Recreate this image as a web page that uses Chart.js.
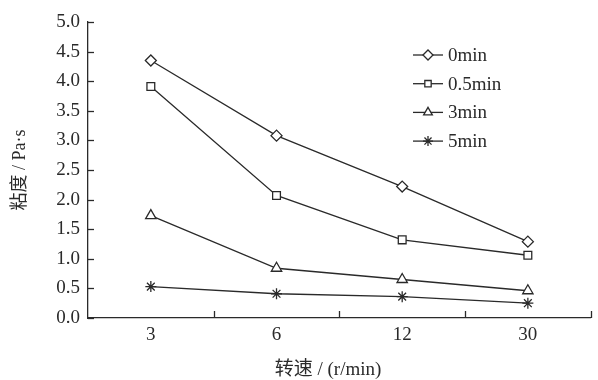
<!DOCTYPE html>
<html>
<head>
<meta charset="utf-8">
<script src="https://cdn.jsdelivr.net/npm/chart.js@4/dist/chart.umd.min.js"></script>
<style>
html,body{margin:0;padding:0;background:#fff;}
#wrap{width:598px;height:380px;position:relative;}
</style>
</head>
<body>
<div id="wrap"><canvas id="c" width="598" height="380"></canvas></div>
<script>
const categories = ['3', '6', '12', '30'];
const seriesNames = ['0min', '0.5min', '3min', '5min'];
const v0min  = [4.35, 3.08, 2.22, 1.29];
const v05min = [3.91, 2.07, 1.32, 1.06];
const v3min  = [1.73, 0.84, 0.65, 0.46];
const v5min  = [0.53, 0.41, 0.36, 0.25];
const yTitle = '粘度 / Pa·s';
const xTitle = '转速 / (r/min)';

const INK = '#2a2a2a';
const SERIF = "'Liberation Serif','Noto Sans CJK SC',serif";
const styles = [
  {pointStyle:'rectRot', radius:5.5},
  {pointStyle:'rect', radius:5.5},
  {pointStyle:'triangle', radius:6},
  {pointStyle:'star', radius:5.5}
];
const values = [v0min, v05min, v3min, v5min];

const datasets = values.map((d, i) => ({
  label: seriesNames[i],
  data: d,
  borderColor: INK,
  borderWidth: 1.3,
  backgroundColor: '#fff',
  pointBackgroundColor: '#fff',
  pointBorderColor: INK,
  pointBorderWidth: 1.3,
  pointStyle: styles[i].pointStyle,
  pointRadius: styles[i].radius,
  tension: 0,
  fill: false
}));

const extras = {
  id: 'extras',
  afterDraw(chart) {
    const ctx = chart.ctx;
    const a = chart.chartArea;
    const xs = chart.scales.x, ys = chart.scales.y;
    ctx.save();
    ctx.strokeStyle = INK;
    ctx.lineWidth = 1.3;
    ys.ticks.forEach(t => {
      const y = Math.round(ys.getPixelForValue(t.value)) + 0.5;
      ctx.beginPath(); ctx.moveTo(a.left, y); ctx.lineTo(a.left + 6, y); ctx.stroke();
    });
    for (let i = 0; i < categories.length; i++) {
      const x = Math.round(xs.getPixelForValue(i + 0.5)) + 0.5;
      ctx.beginPath(); ctx.moveTo(x, a.bottom); ctx.lineTo(x, a.bottom - 7); ctx.stroke();
    }
    const lx = 413, ly0 = 55, dy = 28.7;
    ctx.font = '19px ' + SERIF;
    ctx.textBaseline = 'middle';
    ctx.textAlign = 'left';
    datasets.forEach((ds, i) => {
      const y = ly0 + i * dy;
      ctx.strokeStyle = INK;
      ctx.beginPath(); ctx.moveTo(lx, y); ctx.lineTo(lx + 30, y); ctx.stroke();
      const opts = {pointStyle: ds.pointStyle, radius: ds.pointStyle==='rect'?4.5:5, rotation: 0, borderWidth: 1.3};
      ctx.fillStyle = '#fff';
      if (Chart.helpers && Chart.helpers.drawPoint) {
        Chart.helpers.drawPoint(ctx, opts, lx + 15, y);
      }
      ctx.fillStyle = INK;
      ctx.fillText(ds.label, lx + 35, y + 1);
    });
    ctx.font = '19px ' + SERIF;
    ctx.textAlign = 'center';
    ctx.fillStyle = INK;
    ctx.fillText(xTitle, 328, 370);
    ctx.restore();
  }
};

new Chart(document.getElementById('c'), {
  type: 'line',
  data: { labels: categories, datasets },
  options: {
    responsive: false,
    animation: false,
    devicePixelRatio: 1,
    layout: { padding: { top: 22, right: 1, left: 0, bottom: 0 } },
    plugins: { legend: { display: false }, tooltip: { enabled: false } },
    scales: {
      x: {
        offset: true,
        grid: { display: false, drawTicks: false },
        border: { display: true, color: INK, width: 1.3 },
        ticks: { color: INK, font: { family: SERIF, size: 19 }, padding: 6 },
        afterFit(s) { s.height = 62; }
      },
      y: {
        min: 0, max: 5,
        grid: { display: false, drawTicks: false },
        border: { display: true, color: INK, width: 1.3 },
        ticks: { stepSize: 0.5, color: INK, font: { family: SERIF, size: 19 }, padding: 8,
                 callback: v => Number(v).toFixed(1) },
        title: { display: true, text: yTitle, color: INK, font: { family: SERIF, size: 18 }, padding: { top: 9, bottom: 0 } },
        afterFit(s) { s.width = 88; }
      }
    }
  },
  plugins: [extras]
});
</script>
</body>
</html>
